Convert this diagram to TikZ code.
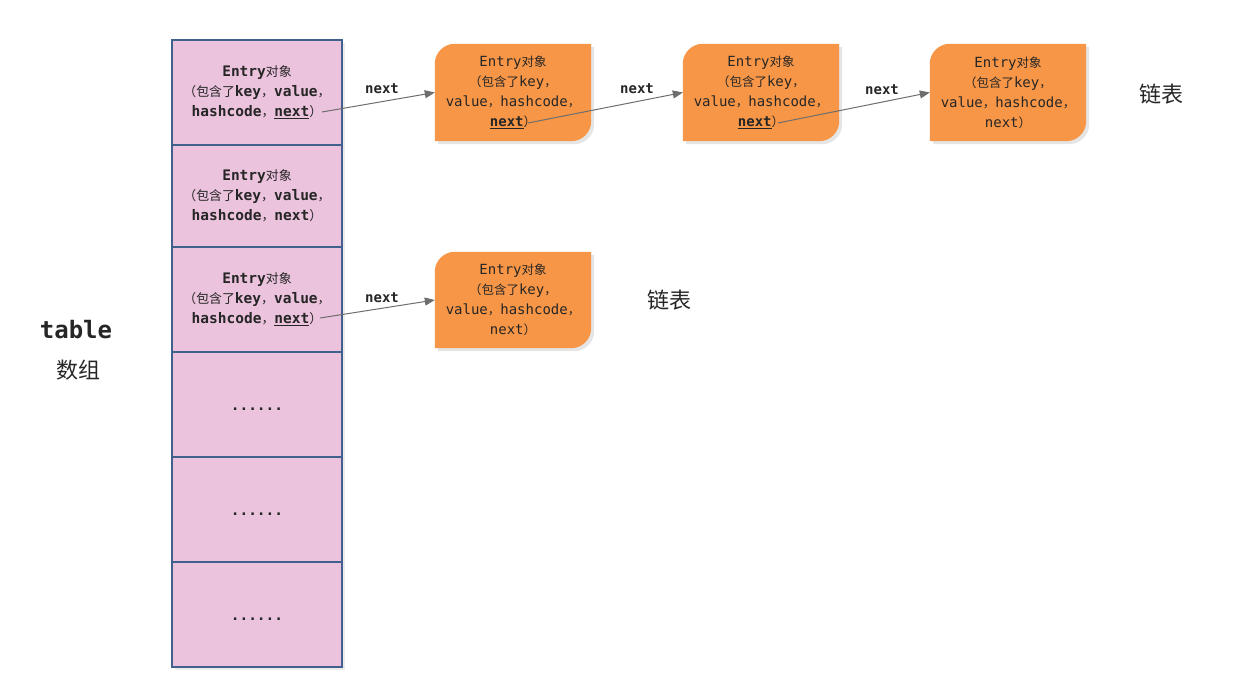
\documentclass[tikz,border=0pt]{standalone}
\usepackage{fontspec}
\newfontfamily\mono{DejaVu Sans Mono}
\newfontfamily\cjk{Noto Sans CJK SC}[Scale=0.89]
\newfontfamily\cjkL{Noto Sans CJK SC}
\usetikzlibrary{arrows.meta}
\pgfdeclarelayer{background}
\pgfsetlayers{background,main}
\definecolor{pinkfill}{HTML}{EBC3DC}
\definecolor{cellline}{HTML}{41608E}
\definecolor{orangefill}{HTML}{F79646}
\definecolor{txt}{HTML}{262626}
\definecolor{arrowgray}{HTML}{6E6E6E}
\newcommand\B[1]{{\mono\bfseries #1}}
\newcommand\M[1]{{\mono #1}}
\newcommand\C[1]{{\cjk #1}}
\newcommand\Dots{\raisebox{-6pt}[0pt][0pt]{\mono\bfseries ......}}
\newcommand\ShapeOf[1]{%
 \begin{pgfonlayer}{background}
 \fill[black!10] ([shift={(3pt,-3pt)}]#1.south west) -- ([shift={(3pt,-23pt)}]#1.north west) arc[start angle=180,end angle=90,radius=20pt] -- ([shift={(3pt,-3pt)}]#1.north east) -- ([shift={(3pt,17pt)}]#1.south east) arc[start angle=0,end angle=-90,radius=20pt] -- cycle;
 \fill[orangefill] (#1.south west) -- ([yshift=-20pt]#1.north west) arc[start angle=180,end angle=90,radius=20pt] -- (#1.north east) -- ([yshift=20pt]#1.south east) arc[start angle=0,end angle=-90,radius=20pt] -- cycle;
 \end{pgfonlayer}}
\tikzset{
 cell/.style={draw=cellline, fill=pinkfill, line width=1.2pt, minimum width=170pt, align=center, text=txt, font=\fontsize{14.5}{20}\selectfont, inner sep=0pt},
 obox/.style={minimum width=156pt, minimum height=97pt, align=center, text=txt, font=\fontsize{14}{20}\selectfont, inner sep=0pt},
 link/.style={draw=arrowgray, line width=1pt, -{Triangle[length=10pt,width=8pt]}},
 lbl/.style={text=txt, font=\fontsize{14}{16}\selectfont\mono\bfseries, inner sep=0pt},
 big/.style={text=txt, font=\fontsize{22}{26}\selectfont\cjkL, inner sep=0pt},
}
\begin{document}
\begin{tikzpicture}[x=1pt,y=1pt]
\useasboundingbox (0,0) rectangle (1245,699);
% table shadow
\fill[black!8] (175,29) rectangle (345,656);
% table cells
\node[cell, minimum height=105pt] (r1) at (257,606.5) {\B{Entry}\C{对象}\\\C{（包含了}\B{key}\C{，}\B{value}\C{，}\\\B{hashcode}\C{，}\B{\underline{next}}\C{）}};
\node[cell, minimum height=102pt] (r2) at (257,503) {\B{Entry}\C{对象}\\\C{（包含了}\B{key}\C{，}\B{value}\C{，}\\\B{hashcode}\C{，}\B{next}\C{）}};
\node[cell, minimum height=105pt] (r3) at (257,399.5) {\B{Entry}\C{对象}\\\C{（包含了}\B{key}\C{，}\B{value}\C{，}\\\B{hashcode}\C{，}\B{\underline{next}}\C{）}};
\node[cell, minimum height=105pt] (r4) at (257,294.5) {\Dots};
\node[cell, minimum height=105pt] (r5) at (257,189.5) {\Dots};
\node[cell, minimum height=105pt] (r6) at (257,84.5) {\Dots};
% orange entries
\node[obox] (b1) at (513,606.5) {\M{Entry}\C{对象}\\\C{（包含了}\M{key}\C{，}\\\M{value}\C{，}\M{hashcode}\C{，}\\\B{\underline{next}}\C{）}};
\ShapeOf{b1}
\node[obox] (b2) at (761,606.5) {\M{Entry}\C{对象}\\\C{（包含了}\M{key}\C{，}\\\M{value}\C{，}\M{hashcode}\C{，}\\\B{\underline{next}}\C{）}};
\ShapeOf{b2}
\node[obox] (b3) at (1008,606.5) {\M{Entry}\C{对象}\\\C{（包含了}\M{key}\C{，}\\\M{value}\C{，}\M{hashcode}\C{，}\\\M{next}\C{）}};
\ShapeOf{b3}
\node[obox, minimum height=96pt] (b4) at (513,399) {\M{Entry}\C{对象}\\\C{（包含了}\M{key}\C{，}\\\M{value}\C{，}\M{hashcode}\C{，}\\\M{next}\C{）}};
\ShapeOf{b4}
% link start points
\coordinate (n1) at (322,587);
\coordinate (n2) at (528,576);
\coordinate (n3) at (778,576);
\coordinate (n4) at (320,381);
\draw[link] (n1) -- (b1.west);
\draw[link] (n2) -- (b2.west);
\draw[link] (n3) -- (b3.west);
\draw[link] (n4) -- (b4.west);
\node[lbl] (l1) at (382,610) {next};
\node[lbl] (l2) at (637,610) {next};
\node[lbl] (l3) at (882,609) {next};
\node[lbl] (l4) at (382,401) {next};
% captions
\node[big] (c1) at (1161,605) {链表};
\node[big] (c2) at (669,399) {链表};
\node[text=txt, font=\fontsize{24}{28}\selectfont\mono\bfseries, inner sep=0pt] (t1) at (76,369) {table};
\node[big] (t2) at (78,329) {数组};
\end{tikzpicture}
\end{document}
